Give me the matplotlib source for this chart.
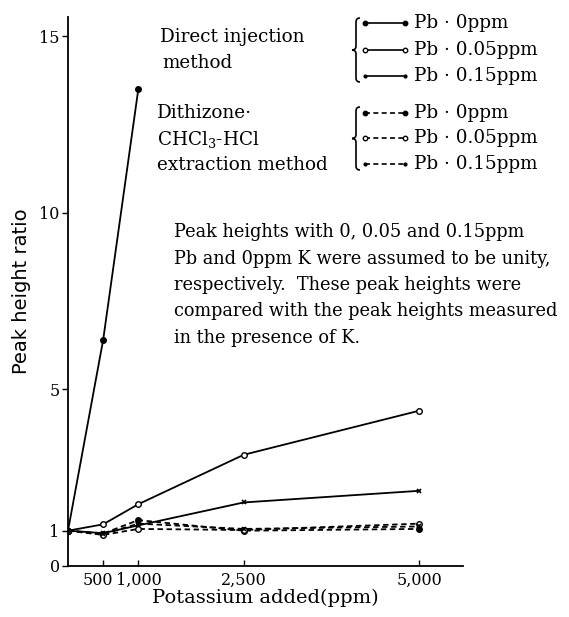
import matplotlib
matplotlib.use("Agg")
import matplotlib.pyplot as plt
import matplotlib.transforms as mtransforms
from matplotlib.path import Path
from matplotlib.patches import PathPatch

plt.rcParams['font.family'] = ['DejaVu Serif']
plt.rcParams['mathtext.fontset'] = 'dejavuserif'

# ---- data ----
k_added = [0, 500, 1000, 2500, 5000]
k_direct0 = [0, 500, 1000]
direct_pb0 = [1.0, 6.4, 13.5]
direct_pb005 = [1.0, 1.18, 1.75, 3.15, 4.4]
direct_pb015 = [1.0, 0.93, 1.15, 1.8, 2.13]
dith_pb0 = [1.0, 0.92, 1.3, 1.0, 1.05]
dith_pb005 = [1.0, 0.88, 1.05, 1.02, 1.2]
dith_pb015 = [1.0, 0.9, 1.2, 1.05, 1.12]

xticks = [500, 1000, 2500, 5000]
xticklabels = ['500', '1,000', '2,500', '5,000']
yticks = [0, 1, 5, 10, 15]

W, H = 569, 617
fig = plt.figure(figsize=(W / 100, H / 100), dpi=100)
ax = fig.add_axes([68 / W, 1 - 566 / H, 395 / W, 549 / H])

solid = '-'
dashed = (0, (3, 2))
lw = 1.3
ms = 4
ax.plot(k_direct0, direct_pb0, color='black', lw=lw, ls=solid, marker='o', ms=ms, mfc='black')
ax.plot(k_added, direct_pb005, color='black', lw=lw, ls=solid, marker='o', ms=ms, mfc='white')
ax.plot(k_added, direct_pb015, color='black', lw=lw, ls=solid, marker='x', ms=3, mew=1.2)
ax.plot(k_added, dith_pb0, color='black', lw=lw, ls=dashed, marker='o', ms=ms, mfc='black')
ax.plot(k_added, dith_pb005, color='black', lw=lw, ls=dashed, marker='o', ms=ms, mfc='white')
ax.plot(k_added, dith_pb015, color='black', lw=lw, ls=dashed, marker='x', ms=3, mew=1.2)

ax.set_xlim(0, 5620)
ax.set_ylim(0, 15.55)
ax.spines['top'].set_visible(False)
ax.spines['right'].set_visible(False)
ax.spines['left'].set_linewidth(1.3)
ax.spines['bottom'].set_linewidth(1.3)
ax.set_xticks(xticks)
ax.set_xticklabels(xticklabels, fontsize=11.5)
ax.set_yticks(yticks)
ax.set_yticklabels([str(v) for v in yticks], fontsize=11.5)
ax.tick_params(axis='x', direction='in', length=4, width=1, pad=4)
ax.tick_params(axis='y', direction='out', length=4, width=1, pad=2)
# shift the crowded "500" label a little to the left, as in the original
lab500 = ax.get_xticklabels()[0]
lab500.set_transform(lab500.get_transform() + mtransforms.ScaledTranslation(-5 / 100, 0, fig.dpi_scale_trans))
lab1000 = ax.get_xticklabels()[1]
lab1000.set_transform(lab1000.get_transform() + mtransforms.ScaledTranslation(1 / 100, 0, fig.dpi_scale_trans))

ax.set_xlabel('Potassium added(ppm)', fontsize=14, labelpad=0)
ax.set_ylabel('Peak height ratio', fontsize=14, labelpad=6, family='DejaVu Sans')
ax.patch.set_alpha(0)

# ---- overlay in pixel coords for legend / annotations ----
ov = fig.add_axes([0, 0, 1, 1], zorder=5)
ov.set_xlim(0, W)
ov.set_ylim(H, 0)
ov.axis('off')
ov.patch.set_alpha(0)

fs = 13.2
ov.text(160, 37, 'Direct injection', fontsize=fs, va='center', ha='left')
ov.text(162, 63, 'method', fontsize=fs, va='center', ha='left')
ov.text(157, 113, 'Dithizone·', fontsize=fs, va='center', ha='left')
ov.text(157, 140, 'CHCl$_3$-HCl', fontsize=fs, va='center', ha='left')
ov.text(157, 165, 'extraction method', fontsize=fs, va='center', ha='left')


def brace(x, y0, y1):
    ym = (y0 + y1) / 2
    d = 4
    verts = [(x + d, y0), (x, y0), (x, y0 + 4), (x, ym - 4), (x, ym), (x - d, ym),
             (x, ym), (x, ym + 4), (x, y1 - 4), (x, y1), (x + d, y1)]
    codes = [Path.MOVETO, Path.CURVE3, Path.CURVE3, Path.LINETO, Path.CURVE3, Path.CURVE3,
             Path.CURVE3, Path.CURVE3, Path.LINETO, Path.CURVE3, Path.CURVE3]
    ov.add_patch(PathPatch(Path(verts, codes), fill=False, lw=1.2, color='black'))


brace(356, 18, 82)
brace(356, 107, 170)

rows = [
    (23, solid, 'o', 'black', 'Pb · 0ppm'),
    (50, solid, 'o', 'white', 'Pb · 0.05ppm'),
    (76, solid, 'x', 'black', 'Pb · 0.15ppm'),
    (113, dashed, 'o', 'black', 'Pb · 0ppm'),
    (138, dashed, 'o', 'white', 'Pb · 0.05ppm'),
    (164, dashed, 'x', 'black', 'Pb · 0.15ppm'),
]
for y, ls, mk, fc, lab in rows:
    ov.plot([365, 405], [y, y], color='black', lw=1.2, ls=ls)
    if mk == 'x':
        ov.plot([365, 405], [y, y], ls='none', marker='.', ms=4, color='black')
    else:
        ov.plot([365, 405], [y, y], ls='none', marker='o', ms=3.2, mfc=fc, color='black', mew=1)
    ov.text(414, y, lab, fontsize=fs, va='center', ha='left')

para = ['Peak heights with 0, 0.05 and 0.15ppm',
        'Pb and 0ppm K were assumed to be unity,',
        'respectively.  These peak heights were',
        'compared with the peak heights measured',
        'in the presence of K.']
for i, line in enumerate(para):
    ov.text(174, 232 + i * 26.5, line, fontsize=12.8, va='center', ha='left')

fig.savefig('out.png', dpi=100)
